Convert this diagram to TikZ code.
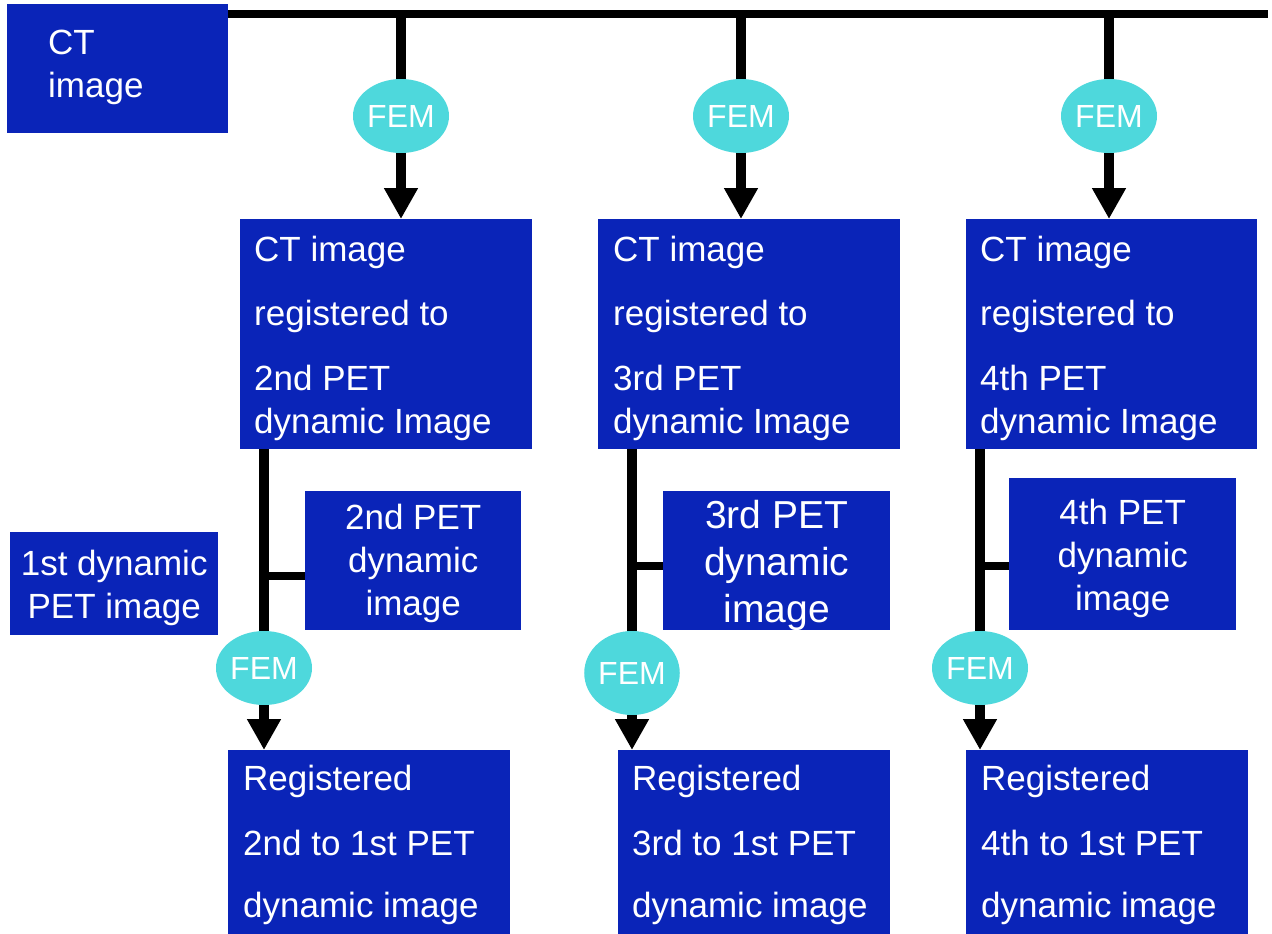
\documentclass[tikz,border=0pt]{standalone}
\usepackage{fontspec}
\setmainfont{Liberation Sans}
\usetikzlibrary{arrows.meta,shapes.geometric}
\definecolor{boxblue}{RGB}{10,36,184}
\definecolor{femcyan}{RGB}{78,216,220}
\begin{document}
\begin{tikzpicture}[x=1pt,y=-1pt,
  bx/.style={fill=boxblue, draw=none, inner sep=0pt, anchor=north west},
  txt/.style={text=white, inner sep=0pt, font=\fontsize{35}{43}\selectfont},
  txtl/.style={txt, align=left, anchor=base west},
  txtc/.style={txt, align=center, anchor=base},
  fem/.style={ellipse, fill=femcyan, draw=none, inner sep=0pt, text=white,
    font=\fontsize{32}{36}\selectfont, minimum width=96pt, minimum height=74pt},
  busline/.style={line width=8pt},
  conn/.style={line width=10pt},
  stubline/.style={line width=8pt},
  arr/.style={line width=10pt, -{Triangle[width=32pt,length=31pt]}}]
\useasboundingbox (0,0) rectangle (1272,934);

% boxes
\node[bx, minimum width=221pt, minimum height=129pt] (ct) at (7,4) {};
\node[bx, minimum width=292pt, minimum height=230pt] (r1) at (240,219) {};
\node[bx, minimum width=302pt, minimum height=230pt] (r2) at (598,219) {};
\node[bx, minimum width=291pt, minimum height=230pt] (r3) at (966,219) {};
\node[bx, minimum width=216pt, minimum height=139pt] (s1) at (305,491) {};
\node[bx, minimum width=227pt, minimum height=139pt] (s2) at (663,491) {};
\node[bx, minimum width=227pt, minimum height=152pt] (s3) at (1009,478) {};
\node[bx, minimum width=208pt, minimum height=103pt] (p1) at (10,532) {};
\node[bx, minimum width=282pt, minimum height=184pt] (b1) at (228,750) {};
\node[bx, minimum width=272pt, minimum height=184pt] (b2) at (618,750) {};
\node[bx, minimum width=282pt, minimum height=184pt] (b3) at (966,750) {};

% texts (anchored at the baseline of the last line)
\node[txtl] (tct) at ([xshift=41pt,yshift=-93pt]ct.north west) {CT\\image};
\node[txtl] (tr1) at ([xshift=14pt,yshift=-214pt]r1.north west)
  {CT image\\[21pt]registered to\\[22pt]2nd PET\\dynamic Image};
\node[txtl] (tr2) at ([xshift=15pt,yshift=-214pt]r2.north west)
  {CT image\\[21pt]registered to\\[22pt]3rd PET\\dynamic Image};
\node[txtl] (tr3) at ([xshift=14pt,yshift=-214pt]r3.north west)
  {CT image\\[21pt]registered to\\[22pt]4th PET\\dynamic Image};
\node[txtc] (ts1) at ([yshift=-124pt]s1.north) {2nd PET\\dynamic\\image};
\node[txtc, font=\fontsize{39}{47}\selectfont] (ts2) at ([yshift=-131pt]s2.north) {3rd PET\\dynamic\\image};
\node[txtc] (ts3) at ([yshift=-132pt]s3.north) {4th PET\\dynamic\\image};
\node[txtc] (tp1) at ([yshift=-86pt]p1.north) {1st dynamic\\PET image};
\node[txtl] (tb1) at ([xshift=15pt,yshift=-167pt]b1.north west)
  {Registered\\[22pt]2nd to 1st PET\\[19pt]dynamic image};
\node[txtl] (tb2) at ([xshift=14pt,yshift=-167pt]b2.north west)
  {Registered\\[22pt]3rd to 1st PET\\[19pt]dynamic image};
\node[txtl] (tb3) at ([xshift=15pt,yshift=-167pt]b3.north west)
  {Registered\\[22pt]4th to 1st PET\\[19pt]dynamic image};

% FEM ellipses
\node[fem] (f1) at (401,116) {FEM};
\node[fem] (f2) at (741,116) {FEM};
\node[fem] (f3) at (1109,116) {FEM};
\node[fem] (f4) at (264,668) {FEM};
\node[fem, minimum width=92pt, minimum height=84pt] (f5) at (632,673) {FEM};
\node[fem] (f6) at (980,668) {FEM};

% bus
\coordinate (busL) at ([yshift=-10pt]ct.north east);
\coordinate (busR) at (1268,14);
\draw[busline] (busL) -- (busR);

% top connectors
\foreach \f/\r in {f1/r1,f2/r2,f3/r3}{
  \draw[conn] (\f |- busL) -- (\f.north);
  \draw[arr] (\f.south) -- (\r.north -| \f);
}

% lower connectors
\foreach \r/\f/\b in {r1/f4/b1,r2/f5/b2,r3/f6/b3}{
  \draw[conn] (\r.south -| \f) -- (\f.north);
  \draw[arr] (\f.south) -- (\b.north -| \f);
}

% stubs
\coordinate (st1) at ([yshift=-15.5pt]s1.west);
\coordinate (st2) at ([yshift=-5.5pt]s2.west);
\coordinate (st3) at ([yshift=-12pt]s3.west);
\draw[stubline] (st1) -- (st1 -| f4);
\draw[stubline] (st2) -- (st2 -| f5);
\draw[stubline] (st3) -- (st3 -| f6);
\end{tikzpicture}
\end{document}
